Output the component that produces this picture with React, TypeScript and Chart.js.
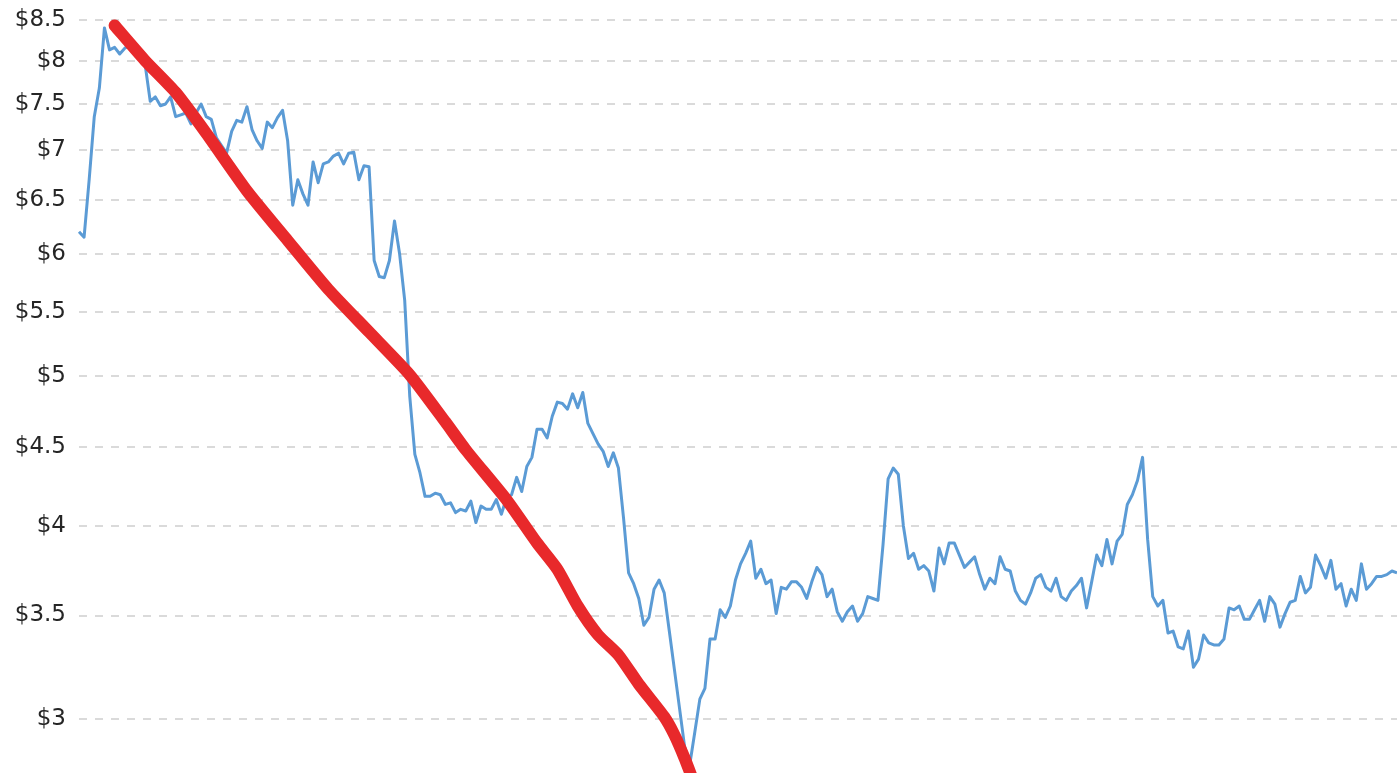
import React, { useEffect, useRef } from "react";
import { Chart, registerables } from "chart.js";

Chart.register(...registerables);

// Weekly price (blue line), oldest first
const priceValues: number[] = [
  6.20, 6.15, 6.70, 7.36, 7.68, 8.40, 8.13, 8.16, 8.08, 8.15,
  8.18, 8.15, 8.05, 7.95, 7.53, 7.58, 7.48, 7.50, 7.58, 7.36,
  7.38, 7.40, 7.28, 7.40, 7.50, 7.36, 7.33, 7.13, 7.05, 6.97,
  7.20, 7.32, 7.30, 7.47, 7.22, 7.10, 7.02, 7.30, 7.24, 7.35,
  7.43, 7.10, 6.45, 6.70, 6.56, 6.45, 6.88, 6.67, 6.86, 6.88,
  6.94, 6.97, 6.86, 6.97, 6.98, 6.70, 6.84, 6.83, 5.94, 5.80,
  5.79, 5.94, 6.30, 6.00, 5.60, 4.85, 4.45, 4.33, 4.18, 4.18,
  4.20, 4.19, 4.13, 4.14, 4.08, 4.10, 4.09, 4.15, 4.02, 4.12,
  4.10, 4.10, 4.16, 4.07, 4.17, 4.19, 4.30, 4.21, 4.37, 4.43,
  4.62, 4.62, 4.56, 4.71, 4.81, 4.80, 4.76, 4.87, 4.77, 4.88,
  4.66, 4.59, 4.52, 4.47, 4.37, 4.46, 4.36, 4.05, 3.73, 3.67,
  3.59, 3.45, 3.49, 3.64, 3.69, 3.62, 3.42, 3.23, 3.05, 2.88,
  2.80, 2.94, 3.09, 3.14, 3.38, 3.38, 3.53, 3.49, 3.55, 3.69,
  3.78, 3.84, 3.91, 3.70, 3.75, 3.67, 3.69, 3.51, 3.65, 3.64,
  3.68, 3.68, 3.65, 3.59, 3.68, 3.76, 3.72, 3.60, 3.64, 3.52,
  3.47, 3.52, 3.55, 3.47, 3.51, 3.60, 3.59, 3.58, 3.89, 4.29,
  4.36, 4.32, 4.00, 3.81, 3.84, 3.75, 3.77, 3.74, 3.63, 3.87,
  3.78, 3.90, 3.90, 3.83, 3.76, 3.79, 3.82, 3.72, 3.64, 3.70,
  3.67, 3.82, 3.75, 3.74, 3.63, 3.58, 3.56, 3.62, 3.70, 3.72,
  3.65, 3.63, 3.70, 3.60, 3.58, 3.63, 3.66, 3.70, 3.54, 3.68,
  3.83, 3.77, 3.92, 3.78, 3.91, 3.95, 4.13, 4.19, 4.28, 4.43,
  3.92, 3.60, 3.55, 3.58, 3.41, 3.42, 3.34, 3.33, 3.42, 3.24,
  3.28, 3.40, 3.36, 3.35, 3.35, 3.38, 3.54, 3.53, 3.55, 3.48,
  3.48, 3.53, 3.58, 3.47, 3.60, 3.56, 3.44, 3.51, 3.57, 3.58,
  3.71, 3.62, 3.65, 3.83, 3.77, 3.70, 3.80, 3.64, 3.67, 3.55,
  3.64, 3.58, 3.78, 3.64, 3.67, 3.71, 3.71, 3.72, 3.74, 3.73,
];

// Red trend stroke: week index and value
const trendWeeks: number[] = [7, 13, 19, 25, 33, 41, 49, 57, 65, 72, 76, 84, 90, 94, 98, 102, 106, 110, 115, 117, 119, 121];
const trendValues: number[] = [8.43, 8.0, 7.63, 7.18, 6.59, 6.12, 5.69, 5.34, 5.01, 4.67, 4.48, 4.16, 3.9, 3.75, 3.55, 3.4, 3.3, 3.16, 3.01, 2.93, 2.83, 2.72];

// Y-axis tick labels (dollars)
const yTicks: number[] = [3, 3.5, 4, 4.5, 5, 5.5, 6, 6.5, 7, 7.5, 8, 8.5];
const yMin = 2.768;
const yMax = 8.757;

export default function App() {
  const canvasRef = useRef<HTMLCanvasElement | null>(null);

  useEffect(() => {
    if (!canvasRef.current) return;
    const labels = priceValues.map((_, i) => String(i));
    const trendData: (number | null)[] = priceValues.map(() => null);
    trendWeeks.forEach((w, k) => {
      trendData[w] = trendValues[k];
    });

    const chart = new Chart(canvasRef.current, {
      type: "line",
      data: {
        labels,
        datasets: [
          {
            label: "Trend",
            data: trendData,
            borderColor: "#e8292b",
            borderWidth: 12,
            borderCapStyle: "round",
            borderJoinStyle: "round",
            pointRadius: 0,
            tension: 0.2,
            spanGaps: true,
            fill: false,
          },
          {
            label: "Price",
            data: priceValues,
            borderColor: "#5b9bd5",
            borderWidth: 3,
            borderJoinStyle: "round",
            pointRadius: 0,
            tension: 0,
            fill: false,
          },
        ],
      },
      options: {
        animation: false,
        responsive: true,
        maintainAspectRatio: false,
        layout: { padding: 0 },
        plugins: {
          legend: { display: false },
          tooltip: { enabled: false },
        },
        scales: {
          x: {
            type: "category",
            display: false,
            offset: false,
          },
          y: {
            type: "logarithmic",
            position: "left",
            min: yMin,
            max: yMax,
            afterBuildTicks: (scale: any) => {
              scale.ticks = yTicks.map((v) => ({ value: v }));
            },
            afterFit: (scale: any) => {
              scale.width = 79;
              scale.paddingTop = 0;
              scale.paddingBottom = 0;
            },
            ticks: {
              autoSkip: false,
              padding: 13,
              color: "#262626",
              font: { family: "DejaVu Sans", size: 23 },
              callback: (v: any) => "$" + Number(v),
            },
            grid: {
              color: "#dadada",
              lineWidth: 2,
              drawTicks: false,
            },
            border: { display: false, dash: [8, 8] },
          },
        },
      },
    });
    return () => chart.destroy();
  }, []);

  return (
    <div style={{ position: "fixed", left: 0, top: 0, width: 1397, height: 773, background: "#fff" }}>
      <canvas ref={canvasRef} />
    </div>
  );
}
